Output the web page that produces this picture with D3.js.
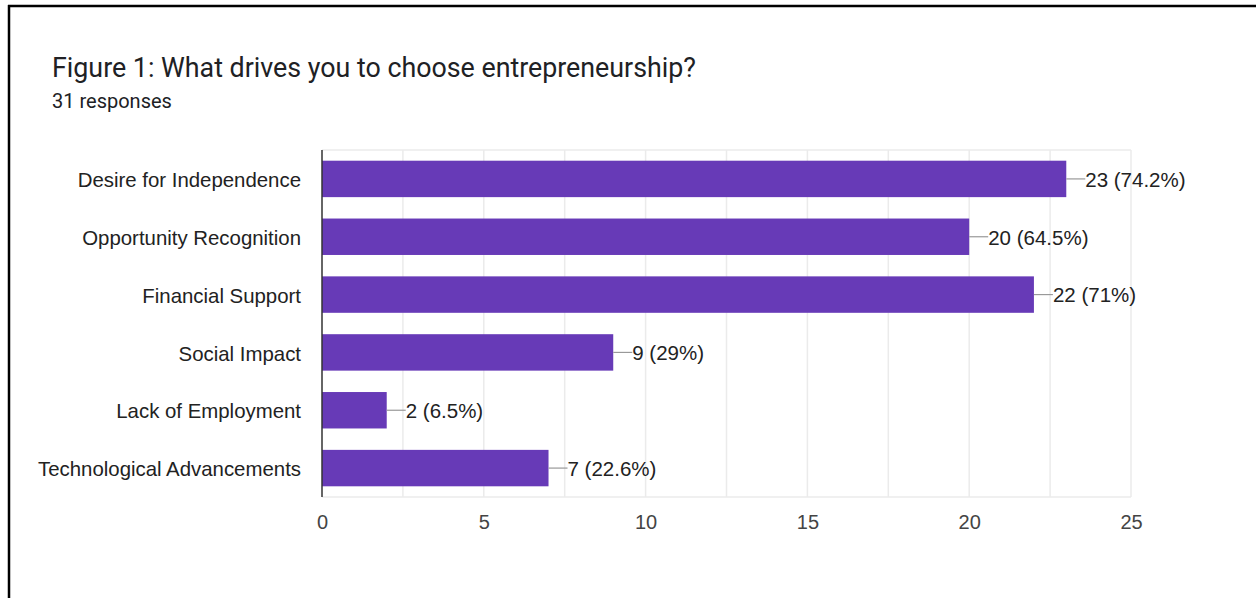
<!DOCTYPE html>
<html>
<head>
<meta charset="utf-8">
<script src="https://cdn.jsdelivr.net/npm/d3@7"></script>
<style>
  html, body { margin: 0; padding: 0; background: #fff; }
  svg { display: block; }
</style>
</head>
<body>
<svg id="chart" width="1256" height="598"></svg>
<script>
// Survey answers
const categories = [
  "Desire for Independence",
  "Opportunity Recognition",
  "Financial Support",
  "Social Impact",
  "Lack of Employment",
  "Technological Advancements"
];
const counts = [23, 20, 22, 9, 2, 7];
const percentLabels = ["74.2%", "64.5%", "71%", "29%", "6.5%", "22.6%"];
const xTicks = [0, 5, 10, 15, 20, 25];
const gridValues = [2.5, 5, 7.5, 10, 12.5, 15, 17.5, 20, 22.5, 25];
const titleText = "Figure 1: What drives you to choose entrepreneurship?";
const subtitleText = "31 responses";

const svg = d3.select("#chart");

// Card frame: top and left edges
svg.append("line").attr("x1", 8).attr("x2", 1256).attr("y1", 6).attr("y2", 6)
  .attr("stroke", "#000").attr("stroke-width", 2.5);
svg.append("line").attr("x1", 9).attr("x2", 9).attr("y1", 5).attr("y2", 598)
  .attr("stroke", "#000").attr("stroke-width", 2.5);

svg.append("text").attr("x", 52).attr("y", 77)
  .attr("font-family", "Roboto, 'Noto Sans', sans-serif").attr("font-size", 26.8)
  .attr("fill", "#202124").text(titleText);
svg.append("text").attr("x", 52).attr("y", 108)
  .attr("font-family", "Roboto, 'Noto Sans', sans-serif").attr("font-size", 20)
  .attr("fill", "#202124").text(subtitleText);

const plotLeft = 322, plotRight = 1131, plotTop = 150, plotBottom = 497;
const x = d3.scaleLinear().domain([0, 25]).range([plotLeft, plotRight]);
const y = d3.scaleBand().domain(categories).range([plotTop, plotBottom]).paddingInner(0.37).paddingOuter(0.185);

const font = "'Liberation Sans', Arial, sans-serif";

// Grid
const g = svg.append("g");
g.selectAll("line.v").data(gridValues).join("line")
  .attr("x1", d => x(d)).attr("x2", d => x(d))
  .attr("y1", plotTop).attr("y2", plotBottom)
  .attr("stroke", "#ebebeb").attr("stroke-width", 1.5);
g.append("line").attr("x1", plotLeft).attr("x2", plotRight).attr("y1", plotTop).attr("y2", plotTop)
  .attr("stroke", "#ebebeb").attr("stroke-width", 1.5);
g.append("line").attr("x1", plotLeft).attr("x2", plotRight).attr("y1", plotBottom).attr("y2", plotBottom)
  .attr("stroke", "#ebebeb").attr("stroke-width", 1.5);

// Bars
svg.selectAll("rect.bar").data(categories).join("rect")
  .attr("x", x(0)).attr("y", d => y(d))
  .attr("width", (d, i) => x(counts[i]) - x(0))
  .attr("height", y.bandwidth())
  .attr("fill", "#673ab7");

// Baseline
svg.append("line").attr("x1", plotLeft).attr("x2", plotLeft).attr("y1", plotTop).attr("y2", plotBottom)
  .attr("stroke", "#333").attr("stroke-width", 1.5);

// Leader lines and value labels
categories.forEach((c, i) => {
  const cy = y(c) + y.bandwidth() / 2;
  const xe = x(counts[i]);
  svg.append("line").attr("x1", xe).attr("x2", xe + 19).attr("y1", cy).attr("y2", cy)
    .attr("stroke", "#999").attr("stroke-width", 1.2);
  svg.append("text").attr("x", xe + 19).attr("y", cy).attr("dy", "0.38em")
    .attr("font-family", font).attr("font-size", 20.5).attr("fill", "#222")
    .text(`${counts[i]} (${percentLabels[i]})`);
});

// Category axis
const yAxis = svg.append("g").attr("transform", `translate(${plotLeft},0)`)
  .call(d3.axisLeft(y).tickSize(0).tickPadding(21));
yAxis.select(".domain").remove();
yAxis.selectAll("text").attr("font-family", font).attr("font-size", 20.4)
  .attr("fill", "#222").attr("dy", "0.4em");

// Value axis
const xAxis = svg.append("g").attr("transform", `translate(0,${plotBottom})`)
  .call(d3.axisBottom(x).tickValues(xTicks).tickSize(0).tickPadding(18));
xAxis.select(".domain").remove();
xAxis.selectAll("text").attr("font-family", font).attr("font-size", 20).attr("fill", "#444");
</script>
</body>
</html>
